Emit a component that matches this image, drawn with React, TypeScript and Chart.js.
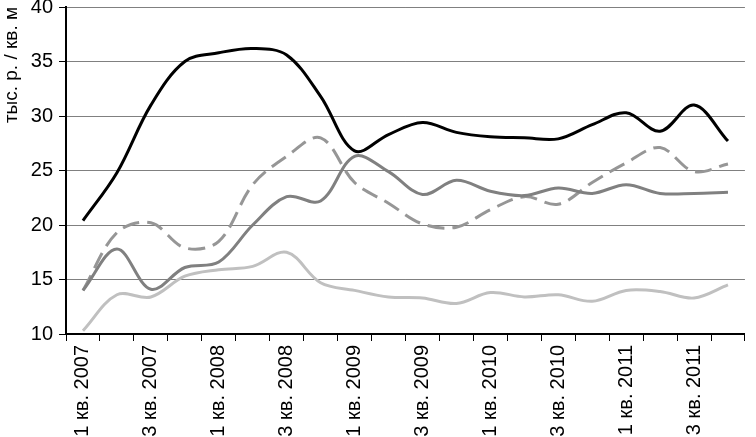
import { useEffect, useRef } from "react";
import { Chart, registerables } from "chart.js";

Chart.register(...registerables);

const years = [2007, 2008, 2009, 2010, 2011];
const quarters = [1, 2, 3, 4];
const categories: string[] = [];
for (const y of years) for (const q of quarters) categories.push(`${q} кв. ${y}`);

const blackSeries = [20.4, 24.8, 31.0, 35.0, 35.8, 36.2, 35.6, 31.8, 26.8, 28.3, 29.4, 28.5, 28.1, 28.0, 27.9, 29.2, 30.3, 28.6, 31.0, 27.7];
const graySeries = [14.0, 17.8, 14.1, 16.1, 16.6, 20.0, 22.6, 22.2, 26.3, 24.9, 22.8, 24.1, 23.1, 22.7, 23.4, 22.9, 23.7, 22.9, 22.9, 23.0];
const dashedSeries = [14.0, 19.3, 20.2, 17.9, 18.5, 23.7, 26.3, 28.0, 23.9, 22.0, 20.1, 19.8, 21.4, 22.6, 21.9, 23.9, 25.7, 27.1, 24.9, 25.6];
const lightSeries = [10.3, 13.6, 13.4, 15.3, 15.9, 16.2, 17.5, 14.7, 14.0, 13.4, 13.3, 12.8, 13.8, 13.4, 13.6, 13.0, 14.0, 13.9, 13.3, 14.5];

const yTicks = [10, 15, 20, 25, 30, 35, 40];
const yTitle = "тыс. р. / кв. м";
const FONT = "'Liberation Sans', Arial, sans-serif";

export default function App() {
  const ref = useRef<HTMLCanvasElement>(null);
  useEffect(() => {
    if (!ref.current) return;
    const chart = new Chart(ref.current, {
      type: "line",
      data: {
        labels: categories,
        datasets: [
          { data: blackSeries, borderColor: "#000000", borderWidth: 3, tension: 0.35, pointRadius: 0 },
          { data: graySeries, borderColor: "#808080", borderWidth: 3, tension: 0.35, pointRadius: 0 },
          { data: dashedSeries, borderColor: "#969696", borderWidth: 3, borderDash: [17, 8], tension: 0.35, pointRadius: 0 },
          { data: lightSeries, borderColor: "#c0c0c0", borderWidth: 3, tension: 0.35, pointRadius: 0 },
        ],
      },
      options: {
        responsive: false,
        animation: false,
        plugins: { legend: { display: false }, tooltip: { enabled: false } },
        layout: { padding: { left: 0, right: 1, top: 27, bottom: 0 } },
        scales: {
          x: {
            offset: true,
            grid: { display: true, drawOnChartArea: false, offset: true, color: "#000000", tickLength: 7, lineWidth: 1 },
            border: { color: "#000000", width: 2 },
            ticks: {
              autoSkip: false,
              maxRotation: 90,
              minRotation: 90,
              padding: 4,
              color: "#000000",
              font: { family: FONT, size: 20 },
              callback: (_v: any, i: number) => (i % 2 === 0 ? categories[i] : ""),
            },
            afterFit: (scale: any) => {
              scale.height = 103;
            },
          },
          y: {
            min: 10,
            max: 40,
            afterBuildTicks: (scale: any) => {
              scale.ticks = yTicks.map((v) => ({ value: v }));
            },
            grid: { color: "#808080", lineWidth: 1, tickColor: "#000000", tickLength: 7 },
            border: { color: "#000000", width: 2 },
            ticks: { color: "#000000", padding: 6, font: { family: FONT, size: 20 } },
            title: {
              display: true,
              text: yTitle,
              align: "end",
              color: "#000000",
              font: { family: FONT, size: 19 },
              padding: { top: 0, bottom: 0 },
            },
            afterFit: (scale: any) => {
              scale.width = 66;
            },
          },
        },
      },
    });
    return () => chart.destroy();
  }, []);
  return (
    <div style={{ position: "absolute", left: 0, top: -20, width: 756, height: 457 }}>
      <canvas ref={ref} width={756} height={457} style={{ display: "block" }} />
    </div>
  );
}
